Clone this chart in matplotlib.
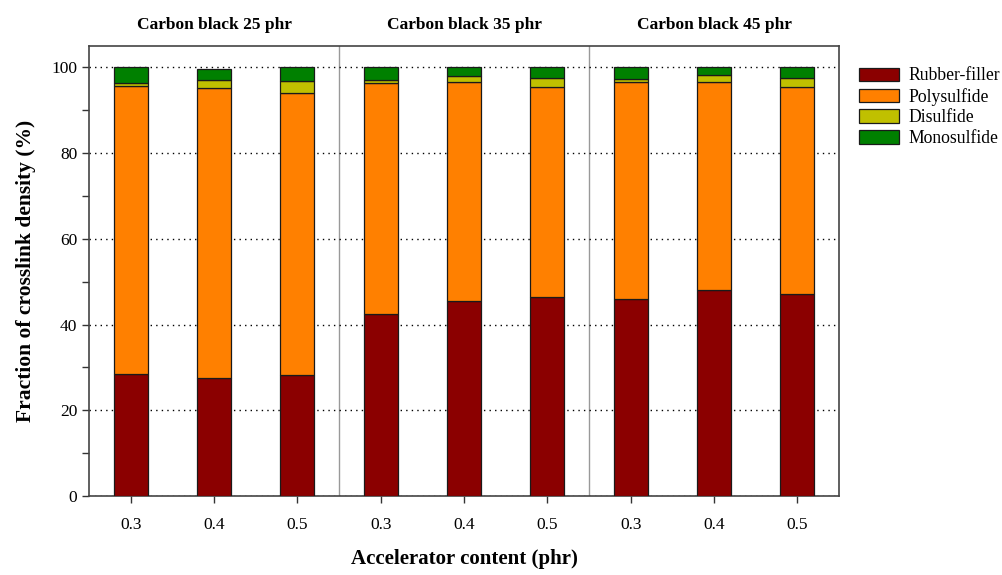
import matplotlib
matplotlib.use("Agg")
import matplotlib.pyplot as plt
import numpy as np
from matplotlib.patches import Patch

plt.rcParams['font.family'] = ['Liberation Serif', 'DejaVu Serif']

groups = ["Carbon black 25 phr", "Carbon black 35 phr", "Carbon black 45 phr"]
accel = ["0.3", "0.4", "0.5"]
series = ["Rubber-filler", "Polysulfide", "Disulfide", "Monosulfide"]
colors = ["#8B0000", "#FF8000", "#C0C000", "#008000"]

rubber_filler = [28.5, 27.5, 28.2, 42.4, 45.5, 46.5, 46.0, 48.0, 47.2]
polysulfide   = [67.1, 67.6, 65.8, 54.0, 51.1, 48.9, 50.6, 48.6, 48.2]
disulfide     = [0.8, 1.9, 2.8, 0.6, 1.4, 2.1, 0.7, 1.6, 2.1]
monosulfide   = [3.6, 2.7, 3.2, 3.0, 2.0, 2.5, 2.7, 1.8, 2.5]

values = [rubber_filler, polysulfide, disulfide, monosulfide]

fig = plt.figure(figsize=(10.03, 5.75), dpi=100)
ax = fig.add_axes([0.0887, 0.1374, 0.7478, 0.7826])

n = len(rubber_filler)
x = np.arange(n) + 0.5
bottom = np.zeros(n)
for vals, c, name in zip(values, colors, series):
    ax.bar(x, vals, width=0.41, bottom=bottom, color=c, edgecolor='#1a1a1a',
           linewidth=0.9, label=name, zorder=3)
    bottom += np.array(vals)

ax.set_xlim(0, n)
ax.set_ylim(0, 105)
ax.set_yticks([0, 20, 40, 60, 80, 100])
ax.set_yticks([10, 30, 50, 70, 90], minor=True)
ax.set_xticks(x)
ax.set_xticklabels(accel * 3)
ax.tick_params(axis='both', direction='out', labelsize=12.5, length=5, width=1, color='#333333')
ax.tick_params(axis='y', which='minor', direction='out', length=5, width=1, color='#333333')
ax.tick_params(axis='x', pad=10)
ax.yaxis.grid(True, which='major', linestyle=(0, (1, 3)), color='black', linewidth=1, zorder=0)

for sp in ax.spines.values():
    sp.set_color('#444444')
    sp.set_linewidth(1.2)

for b in [3, 6]:
    ax.axvline(b, color='#999999', linewidth=1, zorder=1)

for i, g in enumerate(groups):
    ax.text(i * 3 + 1.5, 1.03, g, transform=ax.get_xaxis_transform(),
            ha='center', va='bottom', fontsize=12.5, fontweight='bold')

ax.set_ylabel("Fraction of crosslink density (%)", fontsize=15.5, fontweight='bold', labelpad=11)
ax.set_xlabel("Accelerator content (phr)", fontsize=15, fontweight='bold', labelpad=12)

handles = [Patch(facecolor=c, edgecolor='#1a1a1a', linewidth=0.9) for c in colors]
fig.legend(handles, series, loc='upper left', bbox_to_anchor=(0.849, 0.895),
           frameon=False, fontsize=12.7, handlelength=2.3, handleheight=0.8,
           handletextpad=0.55, labelspacing=0.2, borderaxespad=0)

fig.savefig("out.png", dpi=100)
